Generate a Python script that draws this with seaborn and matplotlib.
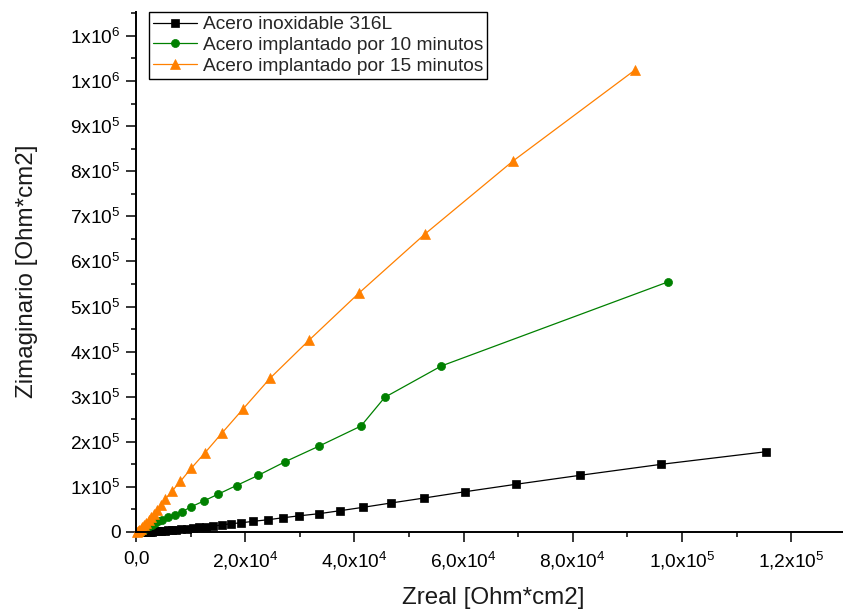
import numpy as np
import pandas as pd
import matplotlib
matplotlib.use("Agg")
import matplotlib.pyplot as plt
from matplotlib.ticker import MultipleLocator, FuncFormatter
import seaborn as sns

# ---------------- data ----------------
series_names = ["Acero inoxidable 316L",
                "Acero implantado por 10 minutos",
                "Acero implantado por 15 minutos"]

x_316L = [1190, 1410, 1650, 1920, 2200, 2510, 2860, 3240, 3660, 4120, 4630, 5220,
          5860, 6590, 7360, 8240, 9250, 10350, 11540, 12880, 14190, 15660, 17340,
          19270, 21480, 24120, 26870, 29910, 33520, 37360, 41630, 46700, 52800,
          60310, 69600, 81320, 96210, 115380]
y_316L = [200, 300, 400, 500, 700, 900, 1100, 1300, 1800, 2200, 2700, 3100,
          3800, 4400, 5100, 6000, 7100, 8600, 10000, 11500, 13300, 15500, 18400,
          20400, 23700, 27100, 31500, 35900, 40600, 47200, 54800, 64300, 75400,
          89400, 105800, 125700, 150100, 178000]

x_10min = [860, 1100, 1370, 1680, 2010, 2380, 2840, 3390, 4030, 4820, 5860, 7090,
           8420, 10110, 12400, 15020, 18410, 22400, 27330, 33570, 41210, 45570,
           55920, 97380]
y_10min = [700, 2200, 4400, 6700, 9300, 12200, 15500, 19300, 23300, 27700, 32600,
           38800, 45000, 55900, 68700, 83800, 103100, 125700, 155900, 190700,
           235000, 298700, 368100, 554300]

x_15min = [240, 400, 600, 860, 1150, 1500, 1890, 2330, 2800, 3300, 3900, 4520,
           5400, 6650, 8150, 10110, 12640, 15700, 19650, 24600, 31680, 40790,
           52930, 69050, 91390]
y_15min = [700, 2200, 4400, 7300, 11100, 15500, 20600, 26600, 33300, 41000, 48800,
           59200, 73600, 91400, 112600, 141200, 175800, 218800, 273400, 341500,
           425100, 529300, 660800, 822600, 1024400]

x_label = "Zreal [Ohm*cm2]"
y_label = "Zimaginario [Ohm*cm2]"

# ---------------- style ----------------
sns.set_theme(style="ticks")
plt.rcParams["font.family"] = ["Liberation Sans", "DejaVu Sans"]
plt.rcParams["mathtext.default"] = "regular"
plt.rcParams["axes.linewidth"] = 1.4

W, H = 843, 614
fig = plt.figure(figsize=(W / 100, H / 100), dpi=100)
ax = fig.add_axes([136 / W, 1 - 532 / H, 707 / W, 520 / H])

df = pd.concat([
    pd.DataFrame({"x": x_316L, "y": y_316L, "serie": series_names[0]}),
    pd.DataFrame({"x": x_10min, "y": y_10min, "serie": series_names[1]}),
    pd.DataFrame({"x": x_15min, "y": y_15min, "serie": series_names[2]}),
])

colors = ["#000000", "#008000", "#FF8000"]
markers = ["s", "o", "^"]
msizes = [5.2, 5.8, 6.8]

for name, c, m, ms in zip(series_names, colors, markers, msizes):
    sub = df[df["serie"] == name]
    sns.lineplot(data=sub, x="x", y="y", ax=ax, color=c, marker=m,
                 markersize=ms, markeredgecolor=c, markeredgewidth=0.5,
                 linewidth=0.9, sort=False, estimator=None, label=name,
                 clip_on=False)

ax.set_xlim(0, 707 / 54.6 * 1e4)
ax.set_ylim(0, 520 / 45.1 * 1e5)

ax.xaxis.set_major_locator(MultipleLocator(2e4))
ax.xaxis.set_minor_locator(MultipleLocator(1e4))
ax.yaxis.set_major_locator(MultipleLocator(1e5))
ax.yaxis.set_minor_locator(MultipleLocator(5e4))


def xfmt(v, pos):
    if abs(v) < 1e-9:
        return "0,0"
    e = int(np.floor(np.log10(abs(v)) + 1e-9))
    m = v / 10 ** e
    return ("%.1f" % m).replace(".", ",") + "x10$^{%d}$" % e


def yfmt(v, pos):
    if abs(v) < 1e-9:
        return "0"
    e = int(np.floor(np.log10(abs(v)) + 1e-9))
    m = v / 10 ** e
    return "%.0f" % m + "x10$^{%d}$" % e


ax.xaxis.set_major_formatter(FuncFormatter(xfmt))
ax.yaxis.set_major_formatter(FuncFormatter(yfmt))

ax.tick_params(axis="both", which="major", direction="out", length=7.2,
               width=1.1, labelsize=13.8, color="black", labelcolor="black")
ax.tick_params(axis="both", which="minor", direction="out", length=3.6,
               width=1.1, color="black")
ax.tick_params(axis="y", which="major", pad=4)
ax.tick_params(axis="x", which="major", pad=6)

sns.despine(ax=ax, top=True, right=True)
for s in ["left", "bottom"]:
    ax.spines[s].set_color("black")
    ax.spines[s].set_linewidth(1.4)

ax.set_xlabel(x_label, fontsize=17.4, color="#1a1a1a", va="center")
ax.set_ylabel(y_label, fontsize=17.4, color="#1a1a1a", va="center")
ax.xaxis.set_label_coords((493 - 136) / 707, (532 - 598) / 520)
ax.yaxis.set_label_coords((27 - 136) / 707, (532 - 271) / 520)

leg = ax.legend(loc="upper left", bbox_to_anchor=((149 - 136) / 707, 1.0),
                borderaxespad=0, fontsize=13.8, frameon=True, fancybox=False,
                framealpha=1, edgecolor="black", handlelength=2.3,
                handletextpad=0.3, labelspacing=0.18, borderpad=0.2)
leg.get_frame().set_linewidth(1.0)

fig.savefig("out.png", dpi=100)
